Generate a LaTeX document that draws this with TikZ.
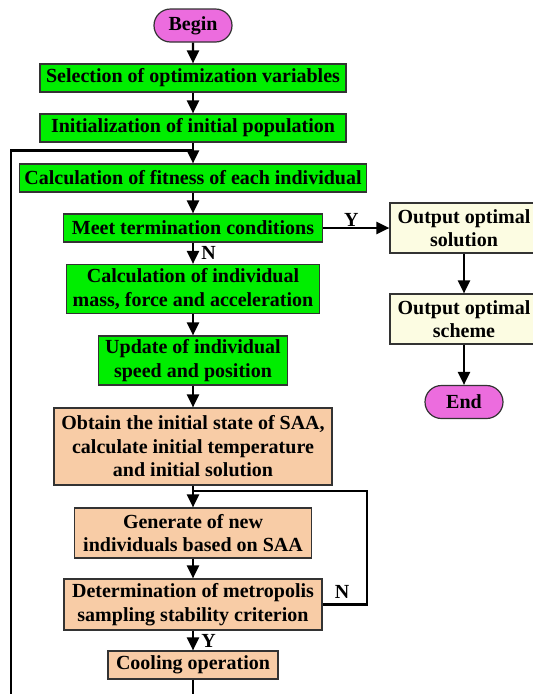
\documentclass[tikz,border=0pt]{standalone}
\usepackage{fontspec}
\setmainfont{Liberation Serif}
\usetikzlibrary{arrows.meta, positioning, shapes.misc}

\definecolor{stepgreen}{RGB}{0,238,0}
\definecolor{steppeach}{RGB}{248,204,166}
\definecolor{outyellow}{RGB}{252,252,226}
\definecolor{termpink}{RGB}{236,108,222}

\begin{document}
\begin{tikzpicture}[x=1pt, y=-1pt,
    box/.style={draw=black!80, line width=1.2pt, inner sep=0pt, align=center,
        font=\fontsize{20}{23.5}\selectfont\bfseries},
    greenbox/.style={box, fill=stepgreen},
    peachbox/.style={box, fill=steppeach},
    outbox/.style={box, fill=outyellow, minimum width=148pt, minimum height=50pt},
    term/.style={box, fill=termpink, rounded rectangle, minimum width=78pt, minimum height=33pt},
    flow/.style={line width=2.2pt, -{Triangle[length=13pt, width=12pt]}},
    link/.style={line width=2.2pt},
    lab/.style={font=\fontsize{20}{23.5}\selectfont\bfseries}]
    \useasboundingbox (0,0) rectangle (533,694);
    \clip (0,0) rectangle (533,694);

    % main column (PSO part)
    \node[term] (begin) at (193,25.5) {Begin};
    \node[greenbox, minimum width=306pt, minimum height=28pt] (sel) at (193,78) {Selection of optimization variables};
    \node[greenbox, minimum width=306pt, minimum height=28pt] (init) at (193,128) {Initialization of initial population};
    \node[greenbox, minimum width=347pt, minimum height=28pt] (fit) at (193,178) {Calculation of fitness of each individual};
    \node[greenbox, minimum width=259pt, minimum height=28pt] (meet) at (193,228) {Meet termination conditions};
    \node[greenbox, minimum width=253pt, minimum height=49pt] (mass) at (193,289) {Calculation of individual\\mass, force and acceleration};
    \node[greenbox, minimum width=189pt, minimum height=49pt] (upd) at (193,360.5) {Update of individual\\speed and position};

    % SAA part
    \node[peachbox, minimum width=278pt, minimum height=77pt] (obt) at (193,446.5) {Obtain the initial state of SAA,\\calculate initial temperature\\and initial solution};
    \node[peachbox, minimum width=237pt, minimum height=50pt] (gen) at (193,533) {Generate of new\\individuals based on SAA};
    \node[peachbox, minimum width=258pt, minimum height=51pt] (det) at (193,604.5) {Determination of metropolis\\sampling stability criterion};
    \node[peachbox, minimum width=170pt, minimum height=28pt] (cool) at (193,665) {Cooling operation};

    % output column
    \node[outbox] (sol) at (464,228) {Output optimal\\solution};
    \node[outbox] (sch) at (464,319) {Output optimal\\scheme};
    \node[term] (end) at (464,402) {End};

    % connectors
    \draw[flow] (begin) -- (sel);
    \draw[flow] (sel) -- (init);
    \draw[flow] (init) -- (fit);
    \draw[flow] (fit) -- (meet);
    \draw[flow] (meet) -- node[lab, above=-3pt, xshift=-5pt] {Y} (sol);
    \draw[flow] (meet) -- node[lab, right=4pt] {N} (mass);
    \draw[flow] (mass) -- (upd);
    \draw[flow] (upd) -- (obt);
    \draw[flow] (obt) -- (gen);
    \draw[flow] (gen) -- (det);
    \draw[flow] (det) -- node[lab, right=4pt] {Y} (cool);
    \draw[flow] (sol) -- (sch);
    \draw[flow] (sch) -- (end);

    % metropolis loop
    \coordinate (nloop) at (367,491);
    \draw[link] (det.east) -| (nloop) -- (obt.south |- nloop);
    \node[lab] (nlab) at (342,592) {N};

    % outer loop back to fitness
    \coordinate (floor) at (11,710);
    \coordinate (fjoin) at (193,150.5);
    \draw[link] (cool.south) -- (cool.south |- floor) -- (floor) |- (fjoin);
\end{tikzpicture}
\end{document}
